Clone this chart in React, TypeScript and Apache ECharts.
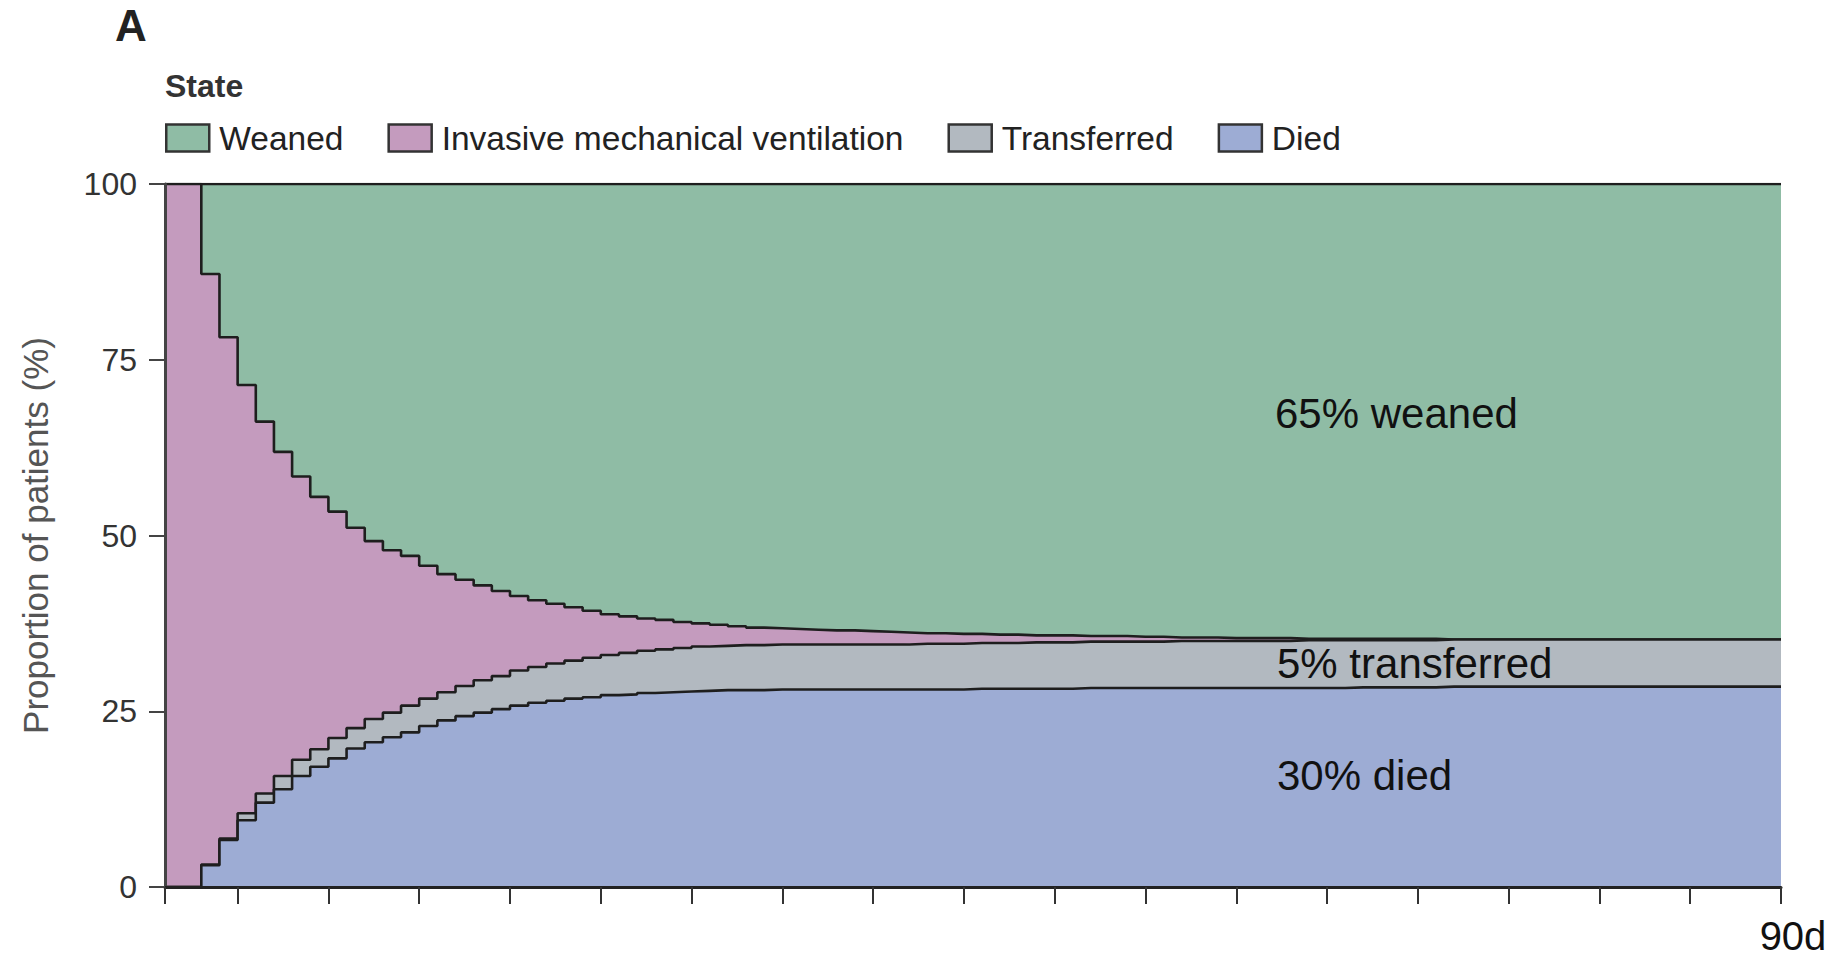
import React, { useEffect, useRef } from "react";
import * as echarts from "echarts";

// Day on the x axis (axis runs from day 1 to day 90)
const DAYS: string[] = Array.from({ length: 90 }, (_, i) => String(i + 1));
const TICK_DAYS = [1, 5, 10, 15, 20, 25, 30, 35, 40, 45, 50, 55, 60, 65, 70, 75, 80, 85, 90];
const LABEL_DAYS = [90];
const Y_TICKS = [0, 25, 50, 75, 100];

const LEGEND_ORDER = ["Weaned", "Invasive mechanical ventilation", "Transferred", "Died"];

// Proportion of patients (%) in each state, per day
const DIED = [
  0, 0, 3.1, 6.7, 9.5, 12.0, 13.9, 15.8, 17.1, 18.3,
  19.7, 20.6, 21.3, 22.0, 22.9, 23.7, 24.3, 24.8, 25.3, 25.8,
  26.2, 26.5, 26.8, 27.0, 27.3, 27.4, 27.6, 27.7, 27.8, 27.9,
  28.0, 28.0, 28.0, 28.1, 28.1, 28.1, 28.1, 28.1, 28.1, 28.1,
  28.1, 28.1, 28.1, 28.1, 28.2, 28.2, 28.2, 28.2, 28.2, 28.2,
  28.3, 28.3, 28.3, 28.3, 28.3, 28.3, 28.3, 28.3, 28.3, 28.3,
  28.3, 28.3, 28.3, 28.3, 28.3, 28.4, 28.4, 28.4, 28.4, 28.4,
  28.5, 28.5, 28.5, 28.5, 28.5, 28.5, 28.5, 28.5, 28.5, 28.5,
  28.5, 28.5, 28.5, 28.5, 28.5, 28.5, 28.5, 28.5, 28.5, 28.5,
];

const TRANSFERRED = [
  0, 0, 0.1, 0.2, 1.0, 1.3, 1.9, 2.3, 2.5, 2.9,
  2.9, 3.3, 3.5, 3.8, 3.9, 4.0, 4.3, 4.6, 4.7, 5.0,
  5.1, 5.3, 5.4, 5.6, 5.7, 5.9, 6.0, 6.1, 6.2, 6.3,
  6.3, 6.4, 6.4, 6.4, 6.4, 6.4, 6.4, 6.4, 6.4, 6.4,
  6.4, 6.5, 6.5, 6.5, 6.5, 6.5, 6.5, 6.6, 6.6, 6.6,
  6.6, 6.6, 6.6, 6.6, 6.6, 6.7, 6.7, 6.7, 6.7, 6.7,
  6.7, 6.7, 6.8, 6.8, 6.8, 6.7, 6.7, 6.7, 6.7, 6.7,
  6.7, 6.7, 6.7, 6.7, 6.7, 6.7, 6.7, 6.7, 6.7, 6.7,
  6.7, 6.7, 6.7, 6.7, 6.7, 6.7, 6.7, 6.7, 6.7, 6.7,
];

const VENTILATED = [
  100, 100, 84.0, 71.3, 60.9, 52.9, 46.1, 40.3, 35.9, 32.2,
  28.5, 25.3, 23.1, 21.3, 18.9, 16.8, 15.1, 13.5, 12.1, 10.6,
  9.5, 8.5, 7.6, 6.7, 5.8, 5.2, 4.6, 4.2, 3.7, 3.3,
  3.0, 2.7, 2.5, 2.3, 2.2, 2.1, 2.0, 2.0, 1.9, 1.8,
  1.7, 1.5, 1.5, 1.4, 1.3, 1.2, 1.2, 1.0, 1.0, 1.0,
  0.8, 0.8, 0.8, 0.7, 0.7, 0.5, 0.5, 0.5, 0.4, 0.4,
  0.4, 0.4, 0.2, 0.2, 0.2, 0.2, 0.2, 0.2, 0.2, 0.2,
  0, 0, 0, 0, 0, 0, 0, 0, 0, 0,
  0, 0, 0, 0, 0, 0, 0, 0, 0, 0,
];

const WEANED = [
  0, 0, 12.8, 21.8, 28.6, 33.8, 38.1, 41.6, 44.5, 46.6,
  48.9, 50.8, 52.1, 52.9, 54.3, 55.5, 56.3, 57.1, 57.9, 58.6,
  59.2, 59.7, 60.2, 60.7, 61.2, 61.5, 61.8, 62.0, 62.3, 62.5,
  62.7, 62.9, 63.1, 63.2, 63.3, 63.4, 63.5, 63.5, 63.6, 63.7,
  63.8, 63.9, 63.9, 64.0, 64.0, 64.1, 64.1, 64.2, 64.2, 64.2,
  64.3, 64.3, 64.3, 64.4, 64.4, 64.5, 64.5, 64.5, 64.6, 64.6,
  64.6, 64.6, 64.7, 64.7, 64.7, 64.7, 64.7, 64.7, 64.7, 64.7,
  64.8, 64.8, 64.8, 64.8, 64.8, 64.8, 64.8, 64.8, 64.8, 64.8,
  64.8, 64.8, 64.8, 64.8, 64.8, 64.8, 64.8, 64.8, 64.8, 64.8,
];

const ANNOTATIONS = ["65% weaned", "5% transferred", "30% died"];

const COLORS: Record<string, string> = {
  Weaned: "#8fbca5",
  "Invasive mechanical ventilation": "#c49bbe",
  Transferred: "#b2b9c0",
  Died: "#9dacd4",
};

const FONT = "'Liberation Sans', Arial, sans-serif";

export default function App() {
  const ref = useRef<HTMLDivElement>(null);

  useEffect(() => {
    if (!ref.current) return;
    const chart = echarts.init(ref.current, undefined, { renderer: "svg" });

    const mk = (name: string, values: number[], z: number) => ({
      name,
      type: "line",
      stack: "total",
      step: "end",
      symbol: "none",
      z,
      data: values,
      lineStyle: { color: "#1e1e1e", width: 2.6 },
      itemStyle: { color: COLORS[name] },
      areaStyle: { color: COLORS[name], opacity: 1 },
      emphasis: { disabled: true },
    });

    const option: any = {
      animation: false,
      textStyle: { fontFamily: FONT },
      title: [
        {
          text: "A",
          left: 115,
          top: 3,
          padding: 0,
          textStyle: { fontSize: 44, fontWeight: "bold", color: "#222", fontFamily: FONT },
        },
        {
          text: "State",
          left: 165,
          top: 70,
          padding: 0,
          textStyle: { fontSize: 32, fontWeight: "bold", color: "#333", fontFamily: FONT },
        },
      ],
      legend: {
        left: 165,
        top: 121,
        padding: 0,
        icon: "rect",
        itemWidth: 43,
        itemHeight: 27,
        itemGap: 44,
        selectedMode: false,
        textStyle: { fontSize: 33.5, color: "#222", fontFamily: FONT, padding: [0, 0, 0, 5] },
        data: LEGEND_ORDER.map((n) => ({
          name: n,
          itemStyle: { color: COLORS[n], borderColor: "#333", borderWidth: 2.5 },
        })),
      },
      grid: { left: 165, right: 58, top: 184, bottom: 73, containLabel: false },
      xAxis: {
        type: "category",
        data: DAYS,
        boundaryGap: false,
        z: 10,
        axisLine: { show: true, lineStyle: { color: "#222", width: 3 } },
        axisTick: {
          show: true,
          length: 17,
          interval: (_i: number, v: string) => TICK_DAYS.includes(Number(v)),
          lineStyle: { color: "#333", width: 2 },
        },
        axisLabel: {
          interval: (_i: number, v: string) => LABEL_DAYS.includes(Number(v)),
          formatter: (v: string) => `${v}d`,
          fontSize: 40,
          color: "#111",
          margin: 29,
          padding: [0, 0, 0, 24],
          fontFamily: FONT,
        },
        splitLine: { show: false },
      },
      yAxis: {
        type: "value",
        min: 0,
        max: 100,
        interval: 25,
        z: 10,
        name: "Proportion of patients (%)",
        nameLocation: "middle",
        nameGap: 112,
        nameTextStyle: { fontSize: 35, color: "#555", fontFamily: FONT },
        axisLine: { show: true, lineStyle: { color: "#444", width: 3 } },
        axisTick: { show: true, length: 16, lineStyle: { color: "#444", width: 2 } },
        axisLabel: {
          fontSize: 32,
          color: "#333",
          margin: 28,
          fontFamily: FONT,
          formatter: (v: number) => (Y_TICKS.includes(v) ? String(v) : ""),
        },
        splitLine: { show: false },
      },
      graphic: [
        {
          type: "text",
          x: 1275,
          y: 413,
          z: 100,
          style: { text: ANNOTATIONS[0], fontSize: 42, fill: "#111", fontFamily: FONT, verticalAlign: "middle" },
        },
        {
          type: "text",
          x: 1277,
          y: 663,
          z: 100,
          style: { text: ANNOTATIONS[1], fontSize: 42, fill: "#111", fontFamily: FONT, verticalAlign: "middle" },
        },
        {
          type: "text",
          x: 1277,
          y: 775,
          z: 100,
          style: { text: ANNOTATIONS[2], fontSize: 42, fill: "#111", fontFamily: FONT, verticalAlign: "middle" },
        },
      ],
      series: [
        mk("Died", DIED, 6),
        mk("Transferred", TRANSFERRED, 5),
        mk("Invasive mechanical ventilation", VENTILATED, 4),
        mk("Weaned", WEANED, 3),
      ],
    };

    chart.setOption(option);
    return () => chart.dispose();
  }, []);

  return (
    <div
      ref={ref}
      style={{ position: "fixed", left: 0, top: 0, width: 1839, height: 960, background: "#fff" }}
    />
  );
}
